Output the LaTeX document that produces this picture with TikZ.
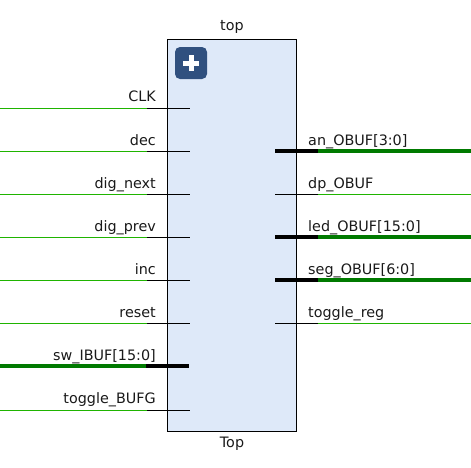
\documentclass[tikz,border=0pt]{standalone}
\usepackage{xcolor}
\usepackage{fontspec}
\setmainfont{DejaVu Sans}
\usetikzlibrary{positioning}

\definecolor{blockfill}{HTML}{DEE9F9}
\definecolor{iconblue}{HTML}{30507F}
\definecolor{netgreen}{HTML}{1FB400}
\definecolor{busgreen}{HTML}{007A00}

\tikzset{
   net/.style={netgreen, line width=1pt},
   bus/.style={busgreen, line width=4pt},
   pin/.style={black, line width=1pt},
   buspin/.style={black, line width=4pt},
   inlabel/.style={anchor=base east, inner sep=0pt, font=\fontsize{14.35}{16}\selectfont, text=black!90},
   outlabel/.style={anchor=base west, inner sep=0pt, font=\fontsize{14.35}{16}\selectfont, text=black!90},
   title/.style={anchor=base, inner sep=0pt, font=\fontsize{14.35}{16}\selectfont, text=black!90}
}

\begin{document}
\begin{tikzpicture}[x=1pt, y=-1pt]
   \useasboundingbox (0,0) rectangle (471,467);

   \node[draw=black, line width=1pt, fill=blockfill, minimum width=129pt, minimum height=392pt, inner sep=0pt] (top) at (232,235.5) {};
   \node[title] (topname) at (232,30) {top};
   \node[title] (topcell) at (232,447) {Top};

   \node[fill=iconblue, rounded corners=5pt, minimum size=32pt, inner sep=0pt] (icon) at (191,63) {};
   \path (icon.center) ++(-8,0) coordinate (iconW) ++(16,0) coordinate (iconE);
   \path (icon.center) ++(0,-8) coordinate (iconN) ++(0,16) coordinate (iconS);
   \path (iconW) edge[white, line width=5pt] (iconE);
   \path (iconN) edge[white, line width=5pt] (iconS);

   % inputs
   \coordinate (clkA) at (0,108.5);   \coordinate (clkB) at (147,108.5);   \coordinate (clkC) at (190,108.5);
   \coordinate (decA) at (0,151.5);   \coordinate (decB) at (147,151.5);   \coordinate (decC) at (190,151.5);
   \coordinate (nextA) at (0,194.5);  \coordinate (nextB) at (147,194.5);  \coordinate (nextC) at (190,194.5);
   \coordinate (prevA) at (0,237.5);  \coordinate (prevB) at (147,237.5);  \coordinate (prevC) at (190,237.5);
   \coordinate (incA) at (0,280.5);   \coordinate (incB) at (147,280.5);   \coordinate (incC) at (190,280.5);
   \coordinate (resetA) at (0,323.5); \coordinate (resetB) at (147,323.5); \coordinate (resetC) at (190,323.5);
   \coordinate (swA) at (0,366);      \coordinate (swB) at (146,366);      \coordinate (swC) at (189,366);
   \coordinate (bufgA) at (0,410.5);  \coordinate (bufgB) at (147,410.5);  \coordinate (bufgC) at (190,410.5);

   \path (clkA) edge[net] (clkB) (clkB) edge[pin] (clkC);
   \path (decA) edge[net] (decB) (decB) edge[pin] (decC);
   \path (nextA) edge[net] (nextB) (nextB) edge[pin] (nextC);
   \path (prevA) edge[net] (prevB) (prevB) edge[pin] (prevC);
   \path (incA) edge[net] (incB) (incB) edge[pin] (incC);
   \path (resetA) edge[net] (resetB) (resetB) edge[pin] (resetC);
   \path (swA) edge[bus] (swB) (swB) edge[buspin] (swC);
   \path (bufgA) edge[net] (bufgB) (bufgB) edge[pin] (bufgC);

   \node[inlabel] (clk) at (156,101) {CLK};
   \node[inlabel] (dec) at (156,145) {dec};
   \node[inlabel] (next) at (156,188) {dig\_next};
   \node[inlabel] (prev) at (156,231) {dig\_prev};
   \node[inlabel] (inc) at (156,274) {inc};
   \node[inlabel] (reset) at (156,317) {reset};
   \node[inlabel] (sw) at (156,360.5) {sw\_IBUF[15:0]};
   \node[inlabel] (bufg) at (156,403.5) {toggle\_BUFG};

   % outputs
   \coordinate (anA) at (275,151);     \coordinate (anB) at (318,151);     \coordinate (anC) at (471,151);
   \coordinate (dpA) at (275,194.5);   \coordinate (dpB) at (318,194.5);   \coordinate (dpC) at (471,194.5);
   \coordinate (ledA) at (275,237);    \coordinate (ledB) at (318,237);    \coordinate (ledC) at (471,237);
   \coordinate (segA) at (275,280);    \coordinate (segB) at (318,280);    \coordinate (segC) at (471,280);
   \coordinate (regA) at (275,323.5);  \coordinate (regB) at (318,323.5);  \coordinate (regC) at (471,323.5);

   \path (anA) edge[buspin] (anB) (anB) edge[bus] (anC);
   \path (dpA) edge[pin] (dpB) (dpB) edge[net] (dpC);
   \path (ledA) edge[buspin] (ledB) (ledB) edge[bus] (ledC);
   \path (segA) edge[buspin] (segB) (segB) edge[bus] (segC);
   \path (regA) edge[pin] (regB) (regB) edge[net] (regC);

   \node[outlabel] (an) at (308,145) {an\_OBUF[3:0]};
   \node[outlabel] (dp) at (308,188) {dp\_OBUF};
   \node[outlabel] (led) at (308,231) {led\_OBUF[15:0]};
   \node[outlabel] (seg) at (308,274) {seg\_OBUF[6:0]};
   \node[outlabel] (reg) at (308,317) {toggle\_reg};
\end{tikzpicture}
\end{document}
